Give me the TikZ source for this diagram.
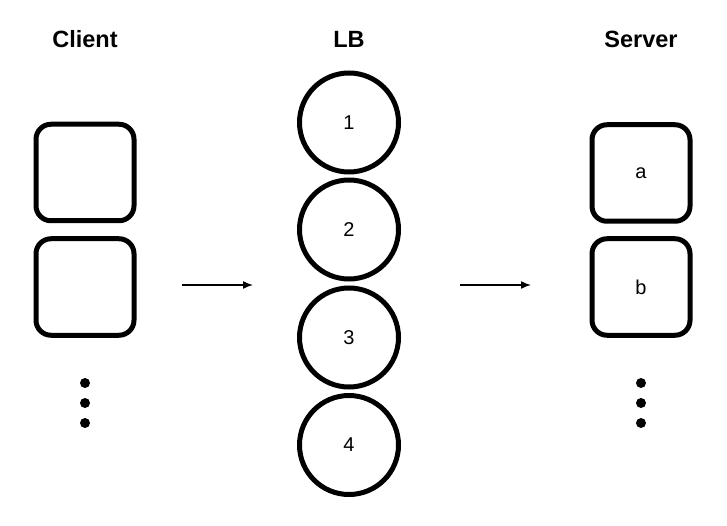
\documentclass[tikz,border=0pt]{standalone}
\usepackage{fontspec}
\setmainfont{Liberation Sans}
\usetikzlibrary{arrows.meta}

\begin{document}
\begin{tikzpicture}[x=1pt,y=-1pt,
	box/.style={draw, line width=5pt, rounded corners=15pt, minimum width=98pt, minimum height=96.5pt, inner sep=0pt, font=\fontsize{20}{24}\selectfont},
	lbnode/.style={draw, circle, line width=5pt, minimum size=99pt, inner sep=0pt, font=\fontsize{20}{24}\selectfont},
	title/.style={font=\fontsize{23.5}{28}\selectfont\bfseries},
	flow/.style={line width=1.5pt, -{Latex[length=10pt,width=8pt]}}
]
\useasboundingbox (0,0) rectangle (727,526);

\node[title] (client) at (85,39) {Client};
\node[title] (lb) at (349,39) {LB};
\node[title] (server) at (641,39) {Server};

\node[box] (c1) at (85,172.5) {};
\node[box] (c2) at (85,287) {};

\foreach \n/\y in {1/122.5,2/229.5,3/337.5,4/445}{
	\node[lbnode] (lb\n) at (349,\y) {\n};
}

\node[box] (sa) at (641,173) {a};
\node[box] (sb) at (641,287) {b};

\foreach \x/\s in {85/c,641/s}{
	\foreach \k/\y in {1/383,2/403,3/423}{
		\fill (\x,\y) circle (5pt) coordinate (\s dot\k);
	}
}

\coordinate (in1) at (182,285);
\coordinate (out1) at (253,285);
\coordinate (in2) at (460,285);
\coordinate (out2) at (531,285);
\draw[flow] (in1) -- (out1);
\draw[flow] (in2) -- (out2);

\end{tikzpicture}
\end{document}
